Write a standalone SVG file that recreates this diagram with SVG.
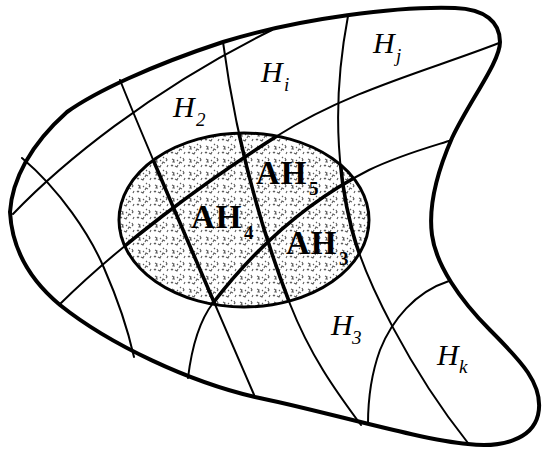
<svg xmlns="http://www.w3.org/2000/svg" width="542" height="450" viewBox="0 0 542 450">
  <style>
    .outer { fill: none; stroke: #000; stroke-width: 4; stroke-linejoin: round; }
    .grid { fill: none; stroke: #000; stroke-width: 2; stroke-linecap: round; }
    .gridThick { fill: none; stroke: #000; stroke-width: 3.6; stroke-linecap: round; }
    .ell { stroke: #000; stroke-width: 3; }
    .h { font-family: "Liberation Serif", "DejaVu Serif", serif; font-style: italic; font-size: 30px; fill: #000; }
    .hs { font-size: 19px; }
    .ah { font-family: "Liberation Serif", "DejaVu Serif", serif; font-weight: bold; font-size: 33px; letter-spacing: 1px; fill: #000; }
    .ahs { font-size: 19px; letter-spacing: 0; }
  </style>
  <defs>
    <pattern id="stip" width="17" height="13" patternUnits="userSpaceOnUse">
      <path d="M2,3 l2,1 l-1,2 l2,0 M9,8 l1,-2 l2,1 M13,2 l1,2 l-1,1 M5,10 l2,1 l1,-2 M15,9 l-1,2 M10,1 l1,1 M1,9 l1,1 l1,-1 M7,4 l1,1" stroke="#5c5c5c" stroke-width="1.1" fill="none"/>
    </pattern>
    <clipPath id="ellClip">
      <ellipse cx="244" cy="220" rx="125" ry="87"/>
    </clipPath>
    <g id="gridLines">
      <path id="lat1" d="M13,214 C60,165 150,90 272,30"/>
      <path id="lat2" d="M60,304 C120,245 200,185 277,136 C350,90 430,70 499,43"/>
      <path id="lat3" d="M188,378 C192,345 200,320 213,303 C250,255 300,205 369,170 C400,155 430,147 452,140"/>
      <path id="lat4" d="M449,281 C415,292 392,320 380,350 C372,372 368,400 368,424"/>
      <path id="lon1" d="M22,158 C60,190 90,235 104,268 C118,300 128,330 134,357"/>
      <path id="lon2" d="M120,80 C140,130 200,270 255,397"/>
      <path id="lon3" d="M223,42 C232,110 250,200 290,304 C310,355 335,390 361,425"/>
      <path id="lon4" d="M348,16 C334,90 334,160 352,230 C365,280 410,370 468,443"/>
    </g>
  </defs>

  <g id="region">
    <path class="outer" d="M10,212 C12,180 30,145 67,112 C95,92 150,66 223,42 C300,18 400,6 455,8 C485,9 500,22 500,42 C500,62 470,100 452,138 C438,170 428,205 432,235 C436,265 460,300 490,330 C520,360 545,385 538,415 C532,440 500,448 468,444 C420,440 320,410 255,397 C190,382 110,345 60,305 C30,280 12,250 10,212 Z" fill="#fff"/>
  </g>

  <g id="shaded-area">
    <ellipse cx="244" cy="220" rx="125" ry="87" fill="#fff"/>
    <ellipse cx="244" cy="220" rx="125" ry="87" fill="url(#stip)"/>
  </g>

  <g id="connectors">
    <use href="#gridLines" class="grid"/>
    <g clip-path="url(#ellClip)">
      <use href="#gridLines" class="gridThick"/>
    </g>
  </g>

  <g id="shaded-outline">
    <ellipse class="ell" cx="244" cy="220" rx="125" ry="87" fill="none"/>
  </g>

  <g id="labels">
    <g id="H2"><text class="h" x="173" y="117">H</text><text class="h hs" x="196" y="126">2</text></g>
    <g id="Hi"><text class="h" x="261" y="82">H</text><text class="h hs" x="284" y="91">i</text></g>
    <g id="Hj"><text class="h" x="373" y="53">H</text><text class="h hs" x="396" y="62">j</text></g>
    <g id="H3"><text class="h" x="331" y="335">H</text><text class="h hs" x="352" y="344">3</text></g>
    <g id="Hk"><text class="h" x="437" y="365">H</text><text class="h hs" x="459" y="373">k</text></g>
    <g id="AH5"><text class="ah" x="256" y="184">AH</text><text class="ah ahs" x="309" y="195">5</text></g>
    <g id="AH4"><text class="ah" x="191" y="228">AH</text><text class="ah ahs" x="244" y="239">4</text></g>
    <g id="AH3"><text class="ah" x="286" y="254">AH</text><text class="ah ahs" x="339" y="265">3</text></g>
  </g>
</svg>
